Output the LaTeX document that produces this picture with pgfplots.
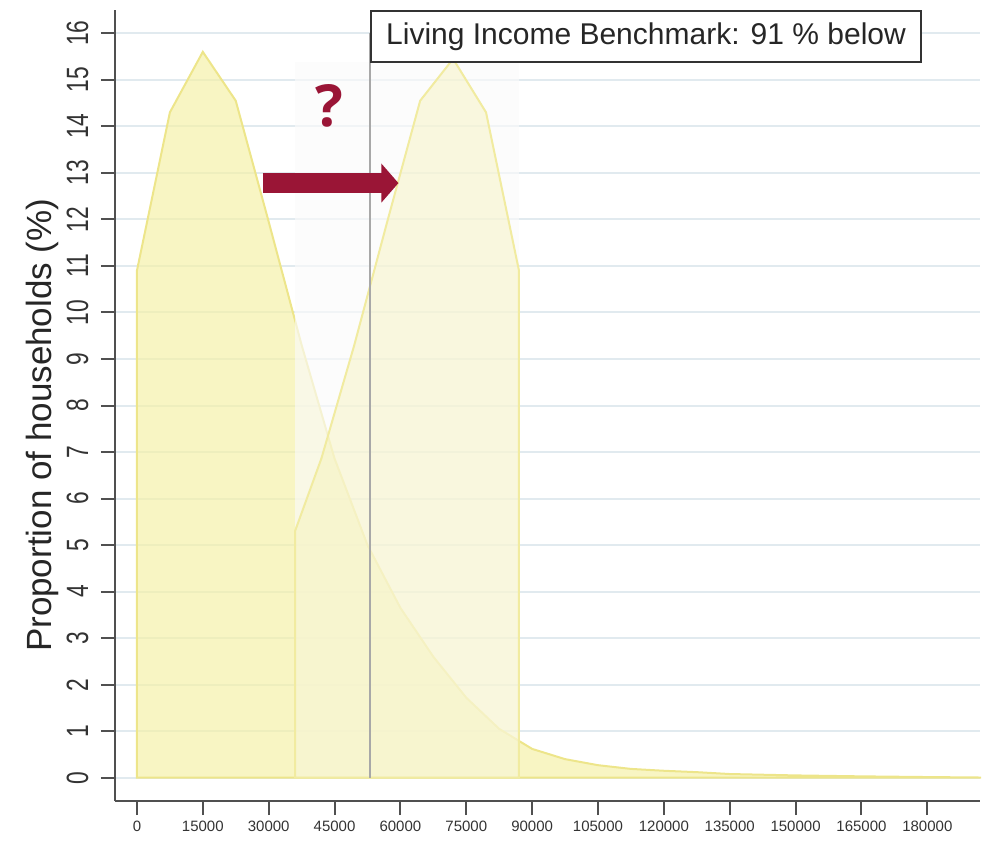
\documentclass[border=0pt]{standalone}
\usepackage{fontspec}
\setmainfont{Liberation Sans}
\newfontfamily\tickfont[FakeStretch=0.74]{Liberation Sans}
\newfontfamily\qfont{Open Sans}
\usepackage{pgfplots}
\pgfplotsset{compat=1.18}
\usetikzlibrary{arrows.meta}
\definecolor{fillyel}{HTML}{F5F0A6}
\definecolor{lineyel}{HTML}{EDE58A}
\definecolor{lineyel2}{HTML}{F1EBA0}
\definecolor{gridc}{HTML}{E1EAEF}
\definecolor{axc}{HTML}{505050}
\definecolor{crim}{HTML}{9A1536}
\definecolor{txt}{HTML}{333333}
\definecolor{pastebg}{HTML}{FAFAFA}
\definecolor{bench}{HTML}{A8A8A8}
\begin{document}
\begin{tikzpicture}
\begin{axis}[
  scale only axis, width=432.5pt, height=395.5pt,
  xmin=-5000, xmax=192000, ymin=-0.5, ymax=16.5,
  axis x line*=bottom, axis y line*=left,
  axis line style={axc, line width=1pt, -},
  xtick={0,15000,30000,45000,60000,75000,90000,105000,120000,135000,150000,165000,180000},
  xticklabels={0,15000,30000,45000,60000,75000,90000,105000,120000,135000,150000,165000,180000},
  ytick={0,1,...,16},
  yticklabels={0,1,2,3,4,5,6,7,8,9,10,11,12,13,14,15,16},
  tick align=outside, major tick length=7pt,
  tick style={axc, line width=1pt},
  ymajorgrids, grid style={gridc, line width=1pt},
  xticklabel style={font=\fontsize{7.5}{8}\selectfont, text=txt, anchor=base},
  xticklabel shift=8pt,
  yticklabel style={font=\tickfont\fontsize{15.4}{16}\selectfont, text=txt, rotate=90, anchor=base},
  yticklabel shift=6.5pt,
  clip=false,
]
\coordinate (BL) at (rel axis cs:0,0);
\coordinate (TR) at (rel axis cs:1,1);
% original distribution
\addplot[draw=lineyel, line width=1pt, fill=fillyel, fill opacity=0.68] coordinates {
(0,10.9) (7500,14.3) (15000,15.6) (22500,14.55) (30000,11.95) (37500,9.3)
(45000,6.86) (52500,5.0) (60000,3.65) (67500,2.6) (75000,1.72) (82500,1.05)
(90000,0.62) (97500,0.4) (105000,0.27) (112500,0.19) (120000,0.15) (127500,0.12)
(135000,0.08) (150000,0.05) (165000,0.03) (180000,0.015) (192000,0.005)
} \closedcycle;
% pasted panel background
\fill[pastebg, opacity=0.65] (axis cs:36000,0) rectangle (axis cs:87000,15.38);
% shifted distribution
\addplot[draw=lineyel2, line width=1pt, fill=fillyel, fill opacity=0.35] coordinates {
(36000,5.3) (42000,6.86) (49500,9.3) (57000,11.95) (64500,14.55) (72000,15.45)
(79500,14.3) (87000,10.9)
} \closedcycle;
% benchmark line
\draw[bench, line width=1pt] (axis cs:53100,0) -- (axis cs:53100,16);
\node[draw=txt, fill=white, anchor=north west, minimum width=275pt, minimum height=25.5pt,
  line width=0.9pt, inner sep=0pt, text=black!85, font=\fontsize{15}{18}\selectfont]
  at (axis cs:53100,16.49) {Living Income Benchmark: 91 \% below};
% arrow and question mark
\draw[crim, line width=10pt, -{Triangle[length=8.5pt, width=19pt]}] (axis cs:28700,12.78) -- (axis cs:59550,12.78);
\node[text=crim, font=\qfont\bfseries\fontsize{29}{30}\selectfont] at (axis cs:43770,14.43) {?};
% y label
\node[rotate=90, anchor=base, text=black!85, font=\fontsize{17.5}{20}\selectfont]
  at ([xshift=-31.5pt]rel axis cs:0,0.475) {Proportion of households (\%)};
\end{axis}
\pgfresetboundingbox
\path[use as bounding box] ([xshift=-57.5pt,yshift=-19.5pt]BL) rectangle ([xshift=6pt,yshift=5pt]TR);
\end{tikzpicture}
\end{document}
